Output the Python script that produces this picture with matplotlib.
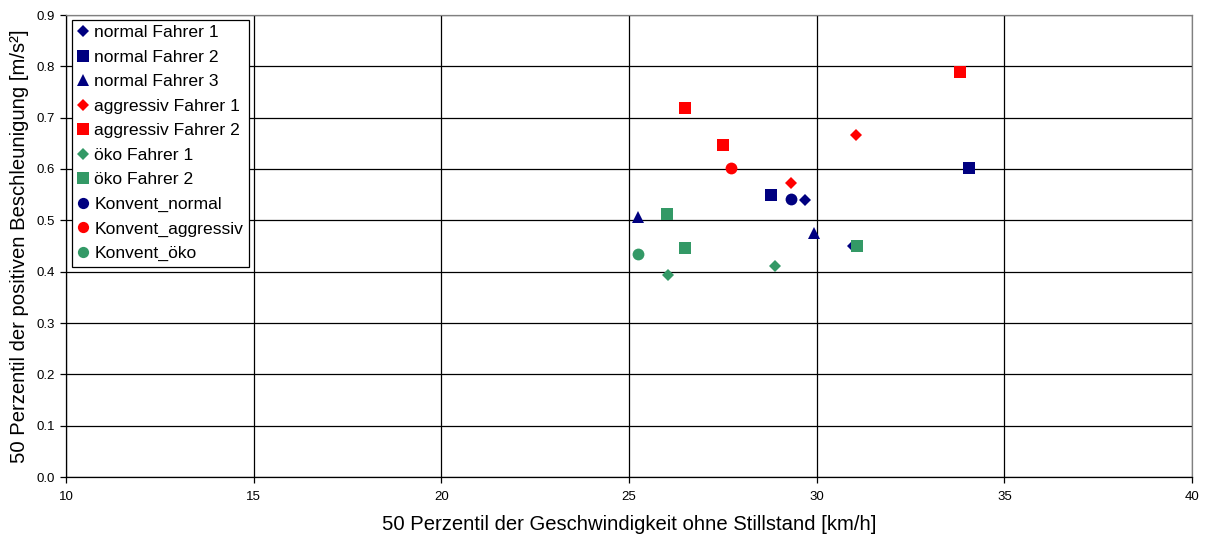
import numpy as np
import matplotlib.pyplot as plt

plt.rcParams['font.family'] = ['Liberation Sans', 'DejaVu Sans']

# 50 Perzentil Geschwindigkeit [km/h] / positive Beschleunigung [m/s²]
normal1_x = [29.69, 30.97]
normal1_y = [0.540, 0.450]
normal2_x = [28.79, 34.06]
normal2_y = [0.549, 0.602]
normal3_x = [25.24, 29.93]
normal3_y = [0.507, 0.475]
aggr1_x = [29.32, 31.05]
aggr1_y = [0.573, 0.666]
aggr2_x = [26.49, 27.50, 33.82]
aggr2_y = [0.719, 0.647, 0.789]
oeko1_x = [26.04, 28.89]
oeko1_y = [0.394, 0.411]
oeko2_x = [26.01, 26.49, 31.08]
oeko2_y = [0.512, 0.446, 0.450]
konv_normal_x = [29.32]
konv_normal_y = [0.542]
konv_aggr_x = [27.72]
konv_aggr_y = [0.602]
konv_oeko_x = [25.24]
konv_oeko_y = [0.434]

navy = '#000080'
red = '#FF0000'
green = '#339966'

series = [
    (normal1_x, normal1_y, 'normal Fahrer 1', navy, 'D', 6.5),
    (normal2_x, normal2_y, 'normal Fahrer 2', navy, 's', 8.5),
    (normal3_x, normal3_y, 'normal Fahrer 3', navy, '^', 8.5),
    (aggr1_x, aggr1_y, 'aggressiv Fahrer 1', red, 'D', 6.5),
    (aggr2_x, aggr2_y, 'aggressiv Fahrer 2', red, 's', 8.5),
    (oeko1_x, oeko1_y, 'öko Fahrer 1', green, 'D', 6.5),
    (oeko2_x, oeko2_y, 'öko Fahrer 2', green, 's', 8.5),
    (konv_normal_x, konv_normal_y, 'Konvent_normal', navy, 'o', 8.5),
    (konv_aggr_x, konv_aggr_y, 'Konvent_aggressiv', red, 'o', 8.5),
    (konv_oeko_x, konv_oeko_y, 'Konvent_öko', green, 'o', 8.5),
]

fig = plt.figure(figsize=(12.11, 5.35), dpi=100)
ax = fig.add_axes([66/1211, 1-477/535, (1192-66)/1211, (477-15)/535])

for x, y, lab, c, m, ms in series:
    ax.plot(x, y, linestyle='none', marker=m, color=c, markersize=ms,
            markeredgewidth=0, label=lab, zorder=3)

ax.set_xlim(10, 40)
ax.set_ylim(0, 0.9)
ax.set_xticks(np.arange(10, 41, 5))
ax.set_yticks(np.arange(0, 0.91, 0.1))
ax.set_yticklabels([f'{v:.1f}' for v in np.arange(0, 0.91, 0.1)])
ax.grid(True, color='black', linewidth=0.9)
ax.set_axisbelow(True)
ax.tick_params(labelsize=9.5, length=4, width=0.9, color='black', pad=4)
ax.tick_params(axis='x', pad=6)
for s in ax.spines.values():
    s.set_color('#808080')
    s.set_linewidth(0.9)
ax.spines['left'].set_color('black')
ax.spines['bottom'].set_color('black')

ax.set_xlabel('50 Perzentil der Geschwindigkeit ohne Stillstand [km/h]', fontsize=14.6, labelpad=9)
ax.set_ylabel('50 Perzentil der positiven Beschleunigung [m/s²]', fontsize=14.6, labelpad=5)

leg = ax.legend(loc='upper left', bbox_to_anchor=(0.005, 0.99), fontsize=12.6,
                frameon=True, fancybox=False, edgecolor='black', framealpha=1,
                handlelength=0.7, handletextpad=0.3, labelspacing=0.53,
                borderpad=0.3, borderaxespad=0, markerscale=0.95)
leg.get_frame().set_linewidth(0.9)

fig.savefig('out.png', dpi=100)
